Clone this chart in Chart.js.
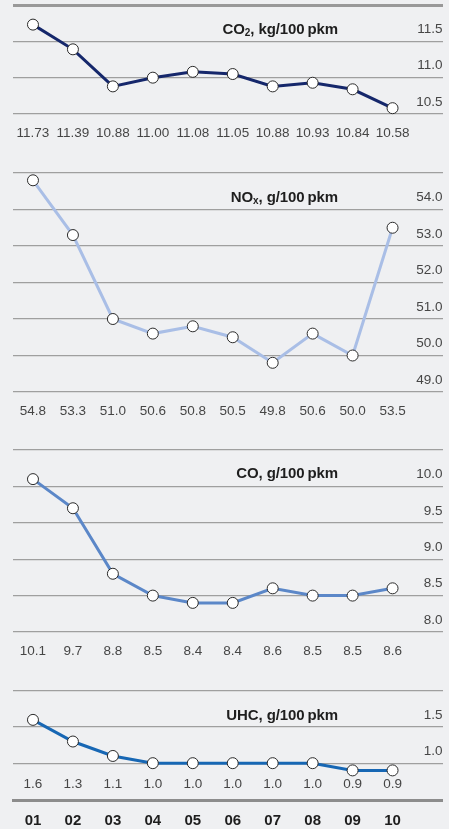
<!DOCTYPE html>
<html>
<head>
<meta charset="utf-8">
<script src="https://cdn.jsdelivr.net/npm/chart.js@4"></script>
<style>
  html, body { margin: 0; padding: 0; background: #eff0f2; }
  body { width: 449px; height: 829px; position: relative; overflow: hidden; font-family: "Liberation Sans", Arial, sans-serif; }
  canvas { position: absolute; left: 0; }
  .ttl { position: absolute; right: 111px; font-weight: bold; font-size: 15px; line-height: 16px; color: #1e1e1e; white-space: nowrap; letter-spacing: -0.1px; }
  .ttl sub { font-size: 10px; vertical-align: -2px; line-height: 0; }
</style>
</head>
<body>
<canvas id="c1" width="449" height="159" style="top:-15px"></canvas>
<canvas id="c2" width="449" height="269" style="top:153px"></canvas>
<canvas id="c3" width="449" height="232" style="top:430px"></canvas>
<canvas id="c4" width="449" height="158" style="top:671px"></canvas>
<div class="ttl" style="top:21px">CO<sub>2</sub>, kg/100&#8201;pkm</div>
<div class="ttl" style="top:189px">NO<sub>x</sub>, g/100&#8201;pkm</div>
<div class="ttl" style="top:465px">CO, g/100&#8201;pkm</div>
<div class="ttl" style="top:707px">UHC, g/100&#8201;pkm</div>
<script>
const years = ['01','02','03','04','05','06','07','08','09','10'];
const co2 = [11.73, 11.39, 10.88, 11.00, 11.08, 11.05, 10.88, 10.93, 10.84, 10.58];
const co2Labels = ['11.73','11.39','10.88','11.00','11.08','11.05','10.88','10.93','10.84','10.58'];
const nox = [54.8, 53.3, 51.0, 50.6, 50.8, 50.5, 49.8, 50.6, 50.0, 53.5];
const noxLabels = ['54.8','53.3','51.0','50.6','50.8','50.5','49.8','50.6','50.0','53.5'];
const co = [10.1, 9.7, 8.8, 8.5, 8.4, 8.4, 8.6, 8.5, 8.5, 8.6];
const coLabels = ['10.1','9.7','8.8','8.5','8.4','8.4','8.6','8.5','8.5','8.6'];
const uhc = [1.6, 1.3, 1.1, 1.0, 1.0, 1.0, 1.0, 1.0, 0.9, 0.9];
const uhcLabels = ['1.6','1.3','1.1','1.0','1.0','1.0','1.0','1.0','0.9','0.9'];

const FONT = "'Liberation Sans', Arial, sans-serif";
const GRID = '#9f9f9f';

function xAxis(labels, extra) {
  return Object.assign({
    type: 'linear', position: 'bottom', min: -0.5, max: 10.25,
    grid: { display: false, drawTicks: false },
    border: { display: false },
    afterBuildTicks: a => { a.ticks = labels.map((_, i) => ({ value: i })); },
    afterFit: s => { s.height = 30; },
    ticks: {
      autoSkip: false, maxRotation: 0, padding: 11,
      color: '#464646', font: { family: FONT, size: 13.5 },
      callback: (v, i) => labels[i]
    }
  }, extra || {});
}

function yAxis(min, max, step, topThick) {
  return {
    type: 'linear', position: 'right', min: min, max: max,
    border: { display: false },
    grid: {
      drawTicks: false,
      color: ctx => (ctx.tick && Math.abs(ctx.tick.value - max) < 1e-6 && topThick) ? '#999999' : GRID,
      lineWidth: ctx => (ctx.tick && Math.abs(ctx.tick.value - max) < 1e-6 && topThick) ? 3 : 1.3
    },
    afterFit: s => { s.width = 0; },
    ticks: {
      stepSize: step, mirror: true, padding: 0, crossAlign: 'near', labelOffset: -12,
      includeBounds: false,
      color: '#464646', font: { family: FONT, size: 13.5 },
      callback: v => Math.abs(v - max) < 1e-6 ? '' : Number(v).toFixed(1)
    }
  };
}

function makeChart(id, values, labels, color, yMin, yMax, step, topThick, withYears) {
  const scales = { x: xAxis(labels), y: yAxis(yMin, yMax, step, topThick) };
  if (withYears) {
    scales.x.afterFit = s => { s.height = 26; };
    scales.x.ticks.padding = 2;
    scales.x.weight = 0;
    scales.x2 = xAxis(years, {
      weight: 1,
      border: { display: true, color: '#8c8c8c', width: 3 },
      afterFit: s => { s.height = 29; },
      ticks: {
        autoSkip: false, maxRotation: 0, padding: 12,
        color: '#1e1e1e', font: { family: FONT, size: 15, weight: 'bold' },
        callback: (v, i) => years[i]
      }
    });
  }
  return new Chart(document.getElementById(id), {
    type: 'line',
    data: {
      datasets: [{
        data: values.map((v, i) => ({ x: i, y: v })),
        borderColor: color, borderWidth: 3,
        pointRadius: 5.5, pointBackgroundColor: '#ffffff',
        pointBorderColor: '#2a2a2a', pointBorderWidth: 1,
        clip: false, tension: 0
      }]
    },
    options: {
      responsive: false, animation: false,
      layout: { padding: { top: 20, left: 13, right: 6, bottom: 0 } },
      plugins: { legend: { display: false }, tooltip: { enabled: false }, title: { display: false } },
      scales: scales
    }
  });
}

makeChart('c1', co2, co2Labels, '#15276b', 10.5, 12.0, 0.5, true, false);
makeChart('c2', nox, noxLabels, '#a9bee6', 49, 55, 1, false, false);
makeChart('c3', co, coLabels, '#5b87c8', 8.0, 10.5, 0.5, false, false);
makeChart('c4', uhc, uhcLabels, '#1767b4', 0.85, 2.0, 0.5, false, true);
</script>
</body>
</html>
